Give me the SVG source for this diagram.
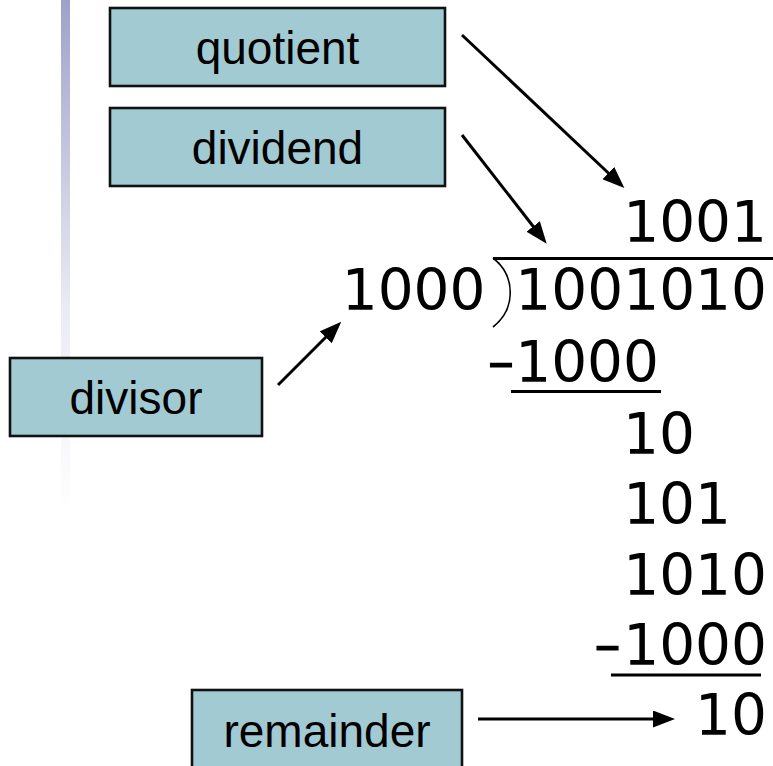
<svg xmlns="http://www.w3.org/2000/svg" width="773" height="766" viewBox="0 0 773 766">
<defs>
<linearGradient id="bar" x1="0" y1="0" x2="0" y2="1">
<stop offset="0" stop-color="#9ea2cb"/>
<stop offset="0.6" stop-color="#ebebf3"/>
<stop offset="1" stop-color="#ffffff"/>
</linearGradient>
<marker id="ah" markerUnits="userSpaceOnUse" markerWidth="22" markerHeight="17" refX="16" refY="8.5" orient="auto" viewBox="0 0 22 17">
<path d="M0,0 L22,8.5 L0,17 z" fill="#000"/>
</marker>
<style>
.box{fill:#a2cad3;stroke:#111;stroke-width:2.6}
.lbl{font-family:"Liberation Sans",Arial,sans-serif;font-size:46px;fill:#000;text-anchor:middle}
.num{font-family:"DejaVu Sans",Verdana,sans-serif;font-size:56.5px;fill:#000;text-anchor:end}
.minus{font-family:"DejaVu Sans",Verdana,sans-serif;font-size:52px;fill:#000;stroke:#000;stroke-width:1.2}
.rule{stroke:#000;stroke-width:3}
.conn line{stroke:#000;stroke-width:3;marker-end:url(#ah)}
</style>
</defs>
<rect x="61" y="0" width="9" height="512" fill="url(#bar)"/>

<g id="quotient"><rect class="box" x="110" y="8" width="335" height="78"/><text class="lbl" x="277.5" y="64">quotient</text></g>
<g id="dividend"><rect class="box" x="110" y="108" width="335" height="78"/><text class="lbl" x="277.5" y="164">dividend</text></g>
<g id="divisor"><rect class="box" x="10" y="358" width="252" height="78"/><text class="lbl" x="136" y="414">divisor</text></g>
<g id="remainder"><rect class="box" x="192" y="690" width="270" height="80"/><text class="lbl" x="327" y="747">remainder</text></g>

<g id="division">
<text class="num" x="767" y="242">1001</text>
<line class="rule" x1="493" y1="258.5" x2="773" y2="258.5"/>
<path d="M493,258 C516,276 516,309 493,327" fill="none" stroke="#000" stroke-width="1.6"/>
<text class="num" x="485.5" y="310">1000</text>
<text class="num" x="767" y="310">1001010</text>
<text class="minus" x="488" y="379">–</text>
<text class="num" x="659" y="382">1000</text>
<line class="rule" x1="511" y1="391.5" x2="661" y2="391.5"/>
<text class="num" x="695" y="453.5">10</text>
<text class="num" x="731" y="523.5">101</text>
<text class="num" x="767" y="595">1010</text>
<text class="minus" x="594.5" y="662">–</text>
<text class="num" x="767" y="665">1000</text>
<line class="rule" x1="611" y1="675" x2="761" y2="675"/>
<text class="num" x="767" y="735">10</text>
</g>

<g id="connectors" class="conn">
<line x1="462" y1="35" x2="620" y2="184"/>
<line x1="462" y1="135" x2="543" y2="239"/>
<line x1="278" y1="385" x2="337" y2="326"/>
<line x1="478" y1="719" x2="669" y2="719"/>
</g>
</svg>
